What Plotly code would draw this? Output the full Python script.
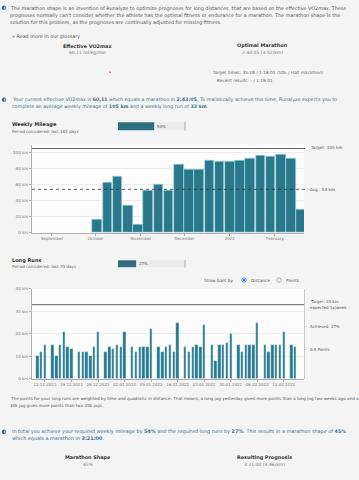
import plotly.graph_objects as go

W, H = 359, 480
FONT = "DejaVu Sans"
TEAL = "#2a788b"
BORDER = "#a9dce8"
GRAY = "#666666"
BLUE = "#3c6f8c"

# ---------------- data ----------------
week_dates = ["2021-10-02", "2021-10-09", "2021-10-16", "2021-10-23", "2021-10-30",
              "2021-11-06", "2021-11-13", "2021-11-20", "2021-11-27", "2021-12-04",
              "2021-12-11", "2021-12-18", "2021-12-25", "2022-01-01", "2022-01-08",
              "2022-01-15", "2022-01-22", "2022-01-29", "2022-02-05", "2022-02-12",
              "2022-02-19"]
week_km = [16, 62, 70, 34, 10, 52, 60, 52, 85, 79, 79, 90, 89, 89, 90, 92, 96, 95, 97, 93, 29]
week_target = 105
week_avg = 54
month_ticks = ["2021-09-01", "2021-10-01", "2021-11-01", "2021-12-01", "2022-01-01", "2022-02-01"]
month_labels = ["September", "October", "November", "December", "2022", "February"]
week_yticks = [0, 20, 40, 60, 80, 100]

run_dates = ["2021-12-10", "2021-12-11", "2021-12-12", "2021-12-14", "2021-12-15", "2021-12-16",
             "2021-12-17", "2021-12-18", "2021-12-19", "2021-12-21", "2021-12-22", "2021-12-23",
             "2021-12-24", "2021-12-25", "2021-12-26", "2021-12-28", "2021-12-29", "2021-12-30",
             "2021-12-31", "2022-01-01", "2022-01-02", "2022-01-04", "2022-01-05", "2022-01-06",
             "2022-01-07", "2022-01-08", "2022-01-09", "2022-01-11", "2022-01-12", "2022-01-13",
             "2022-01-14", "2022-01-15", "2022-01-16", "2022-01-18", "2022-01-19", "2022-01-20",
             "2022-01-21", "2022-01-22", "2022-01-23", "2022-01-25", "2022-01-26", "2022-01-27",
             "2022-01-28", "2022-01-29", "2022-01-30", "2022-02-01", "2022-02-02", "2022-02-03",
             "2022-02-04", "2022-02-05", "2022-02-06", "2022-02-08", "2022-02-09", "2022-02-10",
             "2022-02-11", "2022-02-12", "2022-02-13", "2022-02-15", "2022-02-16"]
run_km = [10, 12, 15, 15, 10, 15, 21, 14, 13, 12, 12, 12, 10, 14, 21, 12, 14, 13, 15, 14, 21,
          14, 12, 14, 14, 14, 22, 14, 12, 14, 15, 12, 25, 14, 12, 14, 15, 14, 24, 15, 8, 15,
          15, 16, 20, 15, 12, 15, 15, 15, 25, 15, 12, 15, 15, 15, 21, 15, 14]
run_target = 33
run_ticks = ["2021-12-12", "2021-12-19", "2021-12-26", "2022-01-02", "2022-01-09",
             "2022-01-16", "2022-01-23", "2022-01-30", "2022-02-06", "2022-02-13"]
run_tick_labels = ["12.12.2021", "19.12.2021", "26.12.2021", "02.01.2022", "09.01.2022",
                   "16.01.2022", "23.01.2022", "30.01.2022", "06.02.2022", "13.02.2022"]
run_yticks = [0, 10, 20, 30, 40]

weekly_pct = 54
long_pct = 27


def X(px):
    return px / W


def Y(py):
    return 1 - py / H


fig = go.Figure()
DAY = 86400000

fig.add_trace(go.Bar(x=week_dates, y=week_km, width=6.5 * DAY,
                     marker=dict(color=TEAL, line=dict(color=BORDER, width=0.6)),
                     xaxis="x", yaxis="y", showlegend=False, hoverinfo="x+y"))
fig.add_trace(go.Bar(x=run_dates, y=run_km, width=0.64 * DAY,
                     marker=dict(color=TEAL, line=dict(color=BORDER, width=0.3)),
                     xaxis="x2", yaxis="y2", showlegend=False, hoverinfo="x+y"))

axis_common = dict(showline=True, linecolor="#b0b0b0", linewidth=1, ticks="outside",
                   ticklen=2, tickcolor="#b0b0b0", tickfont=dict(size=4, color="#777", family=FONT),
                   zeroline=False)

shapes = []
ann = []


def text(px, py, s, size=4.8, color=GRAY, anchor="left", bold=False):
    if bold:
        s = "<b>" + s + "</b>"
    ann.append(dict(x=X(px), y=Y(py), xref="paper", yref="paper", text=s, showarrow=False,
                    xanchor=anchor, yanchor="middle", font=dict(size=size, color=color, family=FONT)))


def icon(px, py):
    shapes.append(dict(type="circle", xref="paper", yref="paper", x0=X(px - 2.2), x1=X(px + 2.2),
                       y0=Y(py + 2.2), y1=Y(py - 2.2), fillcolor="#3b6683", line=dict(width=0)))
    ann.append(dict(x=X(px), y=Y(py), xref="paper", yref="paper", text="<b>i</b>", showarrow=False,
                    xanchor="center", yanchor="middle", font=dict(size=3.5, color="white", family=FONT)))


# ---- top paragraph ----
icon(4, 4.7)
text(8, 4.7, "The marathon shape is an invention of Runalyze to optimize prognoses for long distances, that are based on the effective VO2max. These", size=4.85, color="#555")
text(8, 12.2, "prognoses normally can't consider whether the athlete has the optimal fitness or endurance for a marathon. The marathon shape is the", size=4.85, color="#555")
text(8, 19.5, "solution for this problem, as the prognoses are continually adjusted for missing fitness.", size=4.85, color="#555")
text(10, 33.3, "» Read more in our glossary", size=4.85, color="#555")

text(87, 43, "Effective VO2max", size=4.9, color="#333", anchor="center", bold=True)
text(87, 50, "60,11 ml/kg/min", size=4.5, color="#777", anchor="center")
text(262, 43, "Optimal Marathon", size=4.9, color="#333", anchor="center", bold=True)
text(262, 50, "2:43:05 (3:52/km)", size=4.5, color="#777", anchor="center")
text(268, 70.7, "Target times: 35:18 / 1:18:01 (10k / Half marathon)", size=4.3, color="#666", anchor="center")
text(245, 78, "Recent results: - / 1:19:01", size=4.3, color="#666", anchor="center")
shapes.append(dict(type="circle", xref="paper", yref="paper", x0=X(109.3), x1=X(110.7),
                   y0=Y(70.7), y1=Y(69.3), fillcolor="#d62020", line=dict(width=0)))

# ---- second paragraph ----
icon(4, 97.7)
text(10, 97.7, "Your current effective VO2max is <b>60,11</b> which equals a marathon in <b>2:43:05</b>. To realistically achieve this time, Runalyze expects you to", size=4.75, color=BLUE)
text(10, 104.7, "complete an average weekly mileage of <b>105 km</b> and a weekly long run of <b>33 km</b>.", size=4.75, color=BLUE)

# ---- weekly mileage header ----
text(10, 122.5, "Weekly Mileage", size=5, color="#333", bold=True)
text(10, 129.5, "Period considered: last 182 days", size=4.1, color="#666")
shapes.append(dict(type="rect", xref="paper", yref="paper", x0=X(118), x1=X(185), y0=Y(128.5), y1=Y(120.5),
                   fillcolor="#ececec", line=dict(width=0)))
shapes.append(dict(type="rect", xref="paper", yref="paper", x0=X(118), x1=X(118 + 67 * weekly_pct / 100),
                   y0=Y(128.5), y1=Y(120.5), fillcolor="#2e6f80", line=dict(width=0)))
shapes.append(dict(type="line", xref="paper", yref="paper", x0=X(185), x1=X(185), y0=Y(129), y1=Y(120),
                   line=dict(color="#aaa", width=1)))
text(155, 124.5, f"{weekly_pct}%", size=4, color="#555")

# weekly target / avg lines
shapes.append(dict(type="line", xref="paper", yref="y", x0=X(32), x1=X(305), y0=week_target, y1=week_target,
                   line=dict(color="#666", width=1)))
shapes.append(dict(type="line", xref="paper", yref="y", x0=X(32), x1=X(305), y0=week_avg, y1=week_avg,
                   line=dict(color="#333", width=0.8, dash="dot")))
text(308, 146.5, f"Target: {week_target} km", size=4.2, color="#555")
text(308, 188.3, f"Avg.: {week_avg} km", size=4.2, color="#555")

# ---- long runs header ----
text(10, 260, "Long Runs", size=5, color="#333", bold=True)
text(10, 266.7, "Period considered: last 70 days", size=4.1, color="#666")
shapes.append(dict(type="rect", xref="paper", yref="paper", x0=X(118), x1=X(185), y0=Y(267), y1=Y(260),
                   fillcolor="#ececec", line=dict(width=0)))
shapes.append(dict(type="rect", xref="paper", yref="paper", x0=X(118), x1=X(118 + 67 * long_pct / 100),
                   y0=Y(267), y1=Y(260), fillcolor="#2e6f80", line=dict(width=0)))
shapes.append(dict(type="line", xref="paper", yref="paper", x0=X(185), x1=X(185), y0=Y(267.5), y1=Y(259.5),
                   line=dict(color="#aaa", width=1)))
text(136.5, 263.5, f"{long_pct}%", size=4, color="#555")

# radio buttons
text(202, 280, "Show bars by", size=4.3, color="#555")
shapes.append(dict(type="circle", xref="paper", yref="paper", x0=X(241.8), x1=X(246.2), y0=Y(282.2), y1=Y(277.8),
                   fillcolor="white", line=dict(color="#1a73e8", width=0.8)))
shapes.append(dict(type="circle", xref="paper", yref="paper", x0=X(242.8), x1=X(245.2), y0=Y(281.2), y1=Y(278.8),
                   fillcolor="#1a73e8", line=dict(width=0)))
text(249, 280, "Distance", size=4.3, color="#555")
shapes.append(dict(type="circle", xref="paper", yref="paper", x0=X(276.8), x1=X(281.2), y0=Y(282.2), y1=Y(277.8),
                   fillcolor="white", line=dict(color="#777", width=0.6)))
text(284, 280, "Points", size=4.3, color="#555")

# long run target + right axis
shapes.append(dict(type="line", xref="paper", yref="y2", x0=X(32), x1=X(305), y0=run_target, y1=run_target,
                   line=dict(color="#666", width=1)))
text(308, 302, f"Target: {run_target} km", size=4, color="#555")
text(308, 308, "expected 1x/week", size=4, color="#555")
shapes.append(dict(type="line", xref="paper", yref="paper", x0=X(304.5), x1=X(304.5), y0=Y(380), y1=Y(289),
                   line=dict(color="#c8c8c8", width=1)))
for py in (326.7, 350):
    shapes.append(dict(type="line", xref="paper", yref="paper", x0=X(304.5), x1=X(306.5), y0=Y(py), y1=Y(py),
                       line=dict(color="#c8c8c8", width=1)))
text(308, 326.7, f"Achieved: {long_pct}%", size=4, color="#555")
text(308, 350, "0.5 Points", size=4, color="#555")

# ---- bottom paragraphs ----
text(8, 400, "The points for your long runs are weighted by time and quadratic in distance. That means, a long jog yesterday gives more points than a long jog two weeks ago and a", size=4.15, color="#555")
text(8, 407, "30k jog gives more points than two 20k jogs.", size=4.15, color="#555")

icon(4, 433.3)
text(10, 433.3, "In total you achieve your required weekly mileage by <b>54%</b> and the required long runs by <b>27%</b>. This results in a marathon shape of <b>45%</b>", size=4.9, color=BLUE)
text(10, 440.3, "which equals a marathon in <b>3:21:00</b>.", size=4.9, color=BLUE)

text(88, 459.3, "Marathon Shape", size=4.9, color="#333", anchor="center", bold=True)
text(88, 466.7, "45%", size=4.5, color="#777", anchor="center")
text(264, 459.3, "Resulting Prognosis", size=4.9, color="#333", anchor="center", bold=True)
text(264, 466.7, "3:21:00 (4:46/km)", size=4.5, color="#777", anchor="center")

fig.update_layout(
    width=W, height=H, margin=dict(l=0, r=0, t=0, b=0),
    paper_bgcolor="#f4f4f4", plot_bgcolor="#fdfdfd",
    showlegend=False, bargap=0,
    xaxis=dict(domain=[X(32), X(304)], type="date", range=["2021-08-18 07:00", "2022-02-20 22:00"],
               tickvals=month_ticks, ticktext=month_labels, showgrid=False, anchor="y", **axis_common),
    yaxis=dict(domain=[Y(232), Y(143)], range=[0, 110], tickvals=week_yticks,
               ticktext=[f"{v} km" for v in week_yticks], showgrid=True, gridcolor="#ececec",
               anchor="x", **axis_common),
    xaxis2=dict(domain=[X(32), X(304)], type="date", range=["2021-12-08 14:00", "2022-02-18 08:00"],
                tickvals=run_ticks, ticktext=run_tick_labels, showgrid=False, anchor="y2", **axis_common),
    yaxis2=dict(domain=[Y(379.5), Y(289)], range=[0, 40], tickvals=run_yticks,
                ticktext=[f"{v} km" for v in run_yticks], showgrid=True, gridcolor="#ececec",
                anchor="x2", **axis_common),
    shapes=shapes, annotations=ann,
)

fig.write_html("out.html", config={"displayModeBar": False},
               post_script="document.body.style.margin='0';document.body.style.overflow='hidden';"
                           "document.documentElement.style.overflow='hidden';")
